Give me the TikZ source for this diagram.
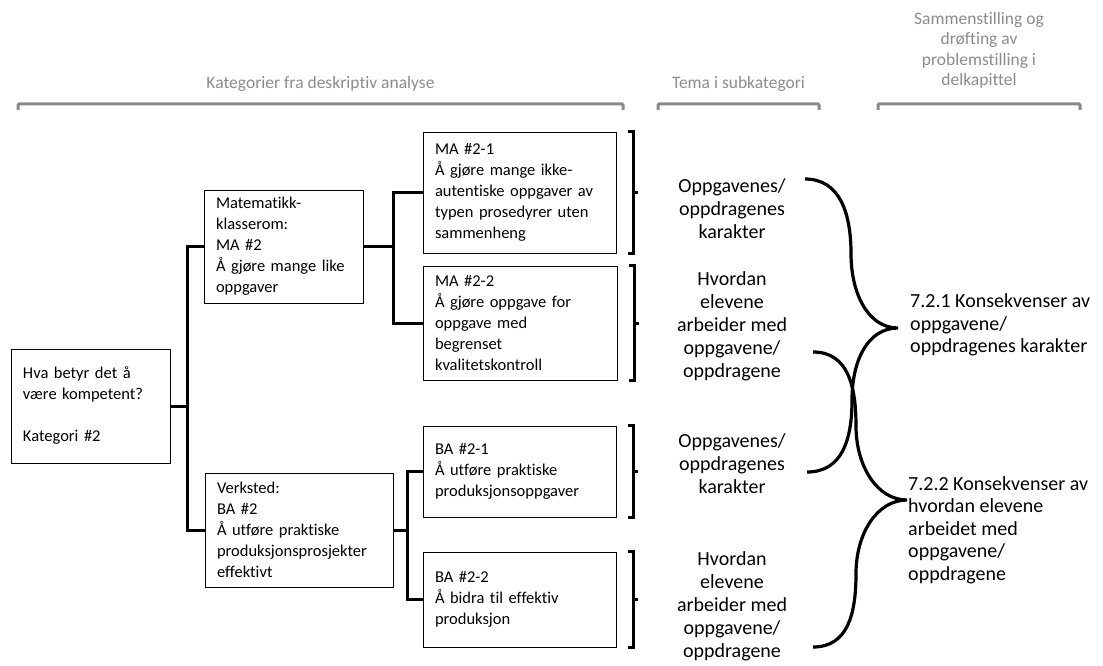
\documentclass[tikz,border=0pt]{standalone}
\usepackage{fontspec}
\setmainfont{Carlito}[Ligatures=NoCommon]
\definecolor{hdgray}{RGB}{137,137,137}
\definecolor{hdtext}{RGB}{140,140,140}
\begin{document}
\begin{tikzpicture}[x=1pt,y=-1pt,
  box/.style={draw=black, line width=0.9pt, align=left, inner xsep=12pt, inner ysep=0pt,
    font=\fontsize{16.5}{21}\selectfont},
  conn/.style={line width=3pt},
  sqbr/.style={line width=3pt},
  brace/.style={line width=3.2pt},
  rtext/.style={align=center, inner sep=0pt, font=\fontsize{20}{23}\selectfont},
  ltext/.style={align=left, inner sep=0pt, anchor=west, font=\fontsize{20}{22.5}\selectfont},
  head/.style={text=hdtext, align=center, anchor=south, inner sep=0pt,
    font=\fontsize{17.5}{20.5}\selectfont},
  hbr/.style={draw=hdgray, line width=3pt, rounded corners=1pt}
]
\useasboundingbox (0,0) rectangle (1103,666);

% headers
\node[head] (h1) at (320.5,91.5) {Kategorier fra deskriptiv analyse};
\node[head] (h2) at (738.5,91.5) {Tema i subkategori};
\node[head] (h3) at (979,89) {Sammenstilling og\\drøfting av\\problemstilling i\\delkapittel};
\draw[hbr] (18,110) -- (18,104) -- (623,104) -- (623,110);
\draw[hbr] (658,110) -- (658,104) -- (819,104) -- (819,110);
\draw[hbr] (878,110) -- (878,104) -- (1080,104) -- (1080,110);

% boxes
\node[box, text width=135pt, minimum height=114pt] (root) at (90.5,406)
  {Hva betyr det å\\være kompetent?\\[21pt]Kategori \#2};
\node[box, text width=135pt, minimum height=113pt] (ma2) at (283.5,246.5)
  {Matematikk-\\klasserom:\\MA \#2\\Å gjøre mange like\\oppgaver};
\node[box, text width=164pt, minimum height=114pt] (ba2) at (299,530)
  {Verksted:\\BA \#2\\Å utføre praktiske\\produksjonsprosjekter\\effektivt};
\node[box, text width=169pt, minimum height=121pt] (ma21) at (519.5,192.5)
  {MA \#2-1\\Å gjøre mange ikke-\\autentiske oppgaver av\\typen prosedyrer uten\\sammenheng};
\node[box, text width=170pt, minimum height=114pt] (ma22) at (520,323)
  {MA \#2-2\\Å gjøre oppgave for\\oppgave med\\begrenset\\kvalitetskontroll};
\node[box, text width=169pt, minimum height=91pt] (ba21) at (519.5,471.5)
  {BA \#2-1\\Å utføre praktiske\\produksjonsoppgaver};
\node[box, text width=169pt, minimum height=95pt] (ba22) at (519.5,599.5)
  {BA \#2-2\\Å bidra til effektiv\\produksjon};

% connectors
\coordinate (j1) at (187,0);
\coordinate (j2) at (393,0);
\coordinate (j3) at (407.5,0);
\draw[conn] (root.east) -- (root.east -| j1);
\draw[conn] (ma2.west) -- (ma2.west -| j1) -- (ba2.west -| j1) -- (ba2.west);
\draw[conn] (ma2.east) -- (ma2.east -| j2);
\draw[conn] (ma21.west) -- (ma21.west -| j2) -- (ma22.west -| j2) -- (ma22.west);
\draw[conn] (ba2.east) -- (ba2.east -| j3);
\draw[conn] (ba21.west) -- (ba21.west -| j3) -- (ba22.west -| j3) -- (ba22.west);

% square brackets
\foreach \b in {ma21,ma22,ba21,ba22}{
  \draw[sqbr] ([xshift=12pt]\b.north east) -- ([xshift=17pt]\b.north east)
     -- ([xshift=17pt]\b.south east) -- ([xshift=12pt]\b.south east);
  \draw[sqbr] ([xshift=17pt]\b.east) -- ([xshift=22pt]\b.east);
}

% theme texts
\node[rtext] (t1) at (732,209) {Oppgavenes/\\oppdragenes\\karakter};
\node[rtext] (t2) at (732,326) {Hvordan\\elevene\\arbeider med\\oppgavene/\\oppdragene};
\node[rtext] (t3) at (732,464) {Oppgavenes/\\oppdragenes\\karakter};
\node[rtext] (t4) at (732,606) {Hvordan\\elevene\\arbeider med\\oppgavene/\\oppdragene};

% result texts
\node[ltext] (r1) at (910,325) {7.2.1 Konsekvenser av\\oppgavene/\\oppdragenes karakter};
\node[ltext] (r2) at (908,530) {7.2.2 Konsekvenser av\\hvordan elevene\\arbeidet med\\oppgavene/\\oppdragene};

% curly braces
\coordinate (b1a) at (805,179); \coordinate (b1t) at (898,328); \coordinate (b1b) at (807,472);
\coordinate (b2a) at (813,352); \coordinate (b2t) at (907,500); \coordinate (b2b) at (813,647);
\draw[brace] (b1a) .. controls +(35,0) and +(0,-40) .. (851,253.5)
   .. controls +(0,40) and +(-30,0) .. (b1t)
   .. controls +(-30,0) and +(0,-40) .. (852,400)
   .. controls +(0,40) and +(35,0) .. (b1b);
\draw[brace] (b2a) .. controls +(35,0) and +(0,-40) .. (856,426)
   .. controls +(0,40) and +(-30,0) .. (b2t)
   .. controls +(-30,0) and +(0,-40) .. (856,573.5)
   .. controls +(0,40) and +(35,0) .. (b2b);
\end{tikzpicture}
\end{document}
